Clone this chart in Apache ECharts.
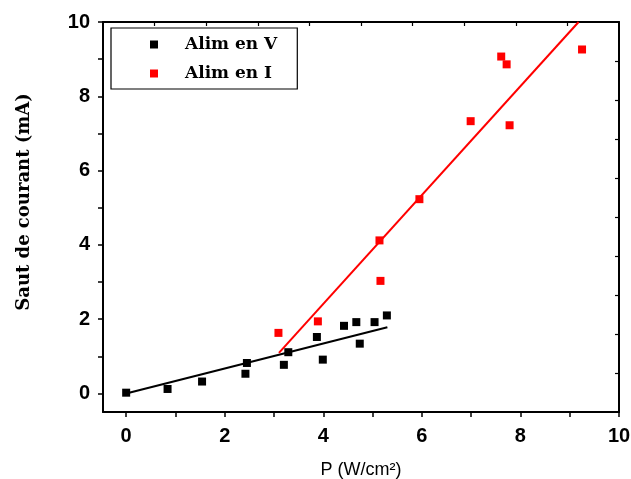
<!DOCTYPE html>
<html>
<head>
<meta charset="utf-8">
<script src="https://cdn.jsdelivr.net/npm/echarts@6/dist/echarts.min.js"></script>
<style>html,body{margin:0;padding:0;background:#fff}#c{width:631px;height:479px}</style>
</head>
<body>
<div id="c"></div>
<script>
// Data
const seriesNames = ['Alim en V', 'Alim en I'];
const vX = [0, 0.84, 1.54, 2.42, 2.45, 3.2, 3.29, 3.87, 3.99, 4.42, 4.67, 4.74, 5.04, 5.29];
const vY = [0.02, 0.12, 0.32, 0.53, 0.82, 0.77, 1.11, 1.52, 0.91, 1.82, 1.92, 1.34, 1.92, 2.1];
const iX = [3.09, 3.89, 5.14, 5.16, 5.95, 6.99, 7.61, 7.72, 7.78, 9.25];
const iY = [1.63, 1.94, 4.12, 3.03, 5.23, 7.33, 9.07, 8.86, 7.22, 9.26];
const vFitX = [0, 5.3];
const vFitY = [0, 1.78];
const iFitX = [3.1, 9.18];
const iFitY = [1.09, 10.0];
const xTicks = [0, 1, 2, 3, 4, 5, 6, 7, 8, 9, 10];
const xLabels = [0, 2, 4, 6, 8, 10];
const yTicks = [0, 1, 2, 3, 4, 5, 6, 7, 8, 9, 10];
const yLabels = [0, 2, 4, 6, 8, 10];
const frameTicks = [1, 2, 3, 4, 5, 6, 7, 8, 9];

const zip = (a, b) => a.map((v, i) => [v, b[i]]);
const lbl = {fontFamily: 'Liberation Sans', fontWeight: 'bold', fontSize: 20, color: '#000'};
const axLine = {show: true, onZero: false, lineStyle: {color: '#000', width: 2}};

const chart = echarts.init(document.getElementById('c'), null, {renderer: 'canvas'});
chart.setOption({
  animation: false,
  backgroundColor: '#fff',
  grid: {left: 103, top: 22, right: 12, bottom: 67, containLabel: false, outerBoundsMode: 'none'},
  legend: {
    data: seriesNames.map(n => ({name: n, icon: 'rect'})),
    orient: 'vertical', left: 111, top: 28,
    padding: [8, 20, 7, 39],
    itemWidth: 8, itemHeight: 8, itemGap: 12,
    borderColor: '#000', borderWidth: 1.2,
    textStyle: {fontFamily: 'DejaVu Serif', fontWeight: 'bold', fontSize: 17, color: '#000', padding: [0, 0, 0, 22]}
  },
  xAxis: [{
    type: 'value', position: 'bottom', min: -0.47, max: 10,
    name: 'P (W/cm²)', nameLocation: 'middle', nameGap: 49,
    nameTextStyle: {fontFamily: 'Liberation Sans', fontSize: 18, color: '#000'},
    axisLine: axLine,
    axisTick: {show: true, inside: false, length: 5, customValues: xTicks, lineStyle: {color: '#000', width: 1.5}},
    axisLabel: Object.assign({margin: 14, customValues: xLabels}, lbl),
    splitLine: {show: false}
  }, {
    type: 'value', position: 'top', min: 0, max: 10,
    axisLine: axLine,
    axisTick: {show: true, inside: true, length: 4, customValues: frameTicks, lineStyle: {color: '#000', width: 1.2}},
    axisLabel: {show: false}, splitLine: {show: false}
  }],
  yAxis: [{
    type: 'value', position: 'left', min: -0.5, max: 10,
    axisLine: axLine,
    axisTick: {show: true, inside: false, length: 5, customValues: yTicks, lineStyle: {color: '#000', width: 1.5}},
    axisLabel: Object.assign({margin: 13, customValues: yLabels}, lbl),
    splitLine: {show: false}
  }, {
    type: 'value', position: 'right', min: 0, max: 10,
    axisLine: axLine,
    axisTick: {show: true, inside: true, length: 4, customValues: frameTicks, lineStyle: {color: '#000', width: 1.2}},
    axisLabel: {show: false}, splitLine: {show: false}
  }],
  graphic: [{
    type: 'text', x: 24, y: 202, rotation: Math.PI / 2,
    style: {text: 'Saut de courant (mA)', font: 'bold 18px "DejaVu Serif"', fill: '#000', align: 'center', verticalAlign: 'middle'}
  }],
  series: [{
    name: seriesNames[0], type: 'scatter', symbol: 'rect', symbolSize: 8,
    itemStyle: {color: '#000', opacity: 1}, data: zip(vX, vY), z: 3
  }, {
    name: seriesNames[1], type: 'scatter', symbol: 'rect', symbolSize: 8,
    itemStyle: {color: '#ff0000', opacity: 1}, data: zip(iX, iY), z: 3
  }, {
    name: 'fitV', type: 'line', showSymbol: false, symbol: 'none',
    lineStyle: {color: '#000', width: 2}, data: zip(vFitX, vFitY), z: 2
  }, {
    name: 'fitI', type: 'line', showSymbol: false, symbol: 'none',
    lineStyle: {color: '#ff0000', width: 2}, data: zip(iFitX, iFitY), z: 2
  }]
});
</script>
</body>
</html>
